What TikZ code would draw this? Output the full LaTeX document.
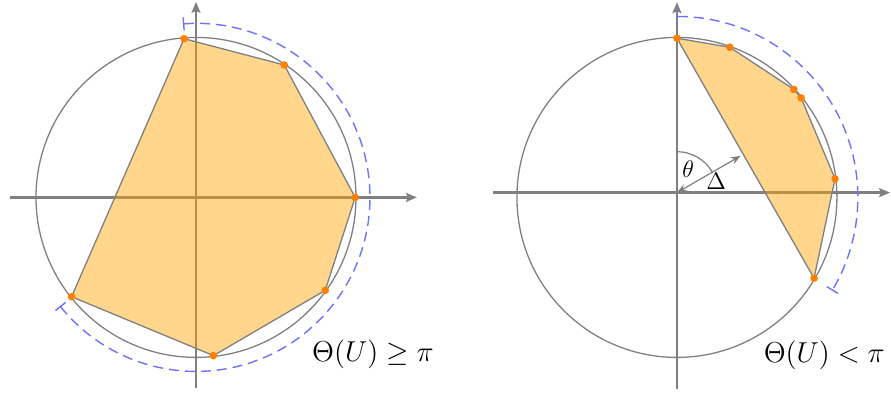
\documentclass[tikz,border=0pt]{standalone}
\usetikzlibrary{arrows.meta}
\definecolor{hullfill}{RGB}{255,165,0}
\definecolor{ptorange}{RGB}{255,128,0}
\definecolor{arcblue}{RGB}{112,112,255}

\begin{document}
\begin{tikzpicture}[x=80pt, y=80pt, >={Stealth[length=5.5pt, width=4.5pt, inset=1pt]},
  axis/.style={->, draw=gray, line width=1.3pt},
  unitcircle/.style={draw=gray, line width=0.65pt},
  hull/.style={fill=hullfill, fill opacity=0.45, draw=gray, line width=0.65pt},
  span/.style={draw=arcblue, line width=0.7pt, dash pattern=on 5pt off 3pt,
    {Bar[width=6.5pt]}-{Bar[width=6.5pt]}},
  vertex/.style={circle, fill=ptorange, inner sep=0pt, minimum size=3.8pt},
  lbl/.style={font=\fontsize{13.4pt}{16pt}\selectfont}]
  \useasboundingbox (-1.225,-1.228) rectangle (4.344,1.234);

  % ---------- Left: Theta(U) >= pi ----------
  \coordinate (O1) at (0,0);
  \draw[axis] (-1.1625,0) -- (1.381,0);
  \draw[axis] (0,-1.19) -- (0,1.222);
  \draw[unitcircle] (O1) circle (1);

  % Points on the circle
  \coordinate (P1) at (94.3:0.995);
  \coordinate (P2) at (56.3:0.995);
  \coordinate (P3) at (0:0.995);
  \coordinate (P4) at (-35.7:0.995);
  \coordinate (P5) at (-83.7:0.995);
  \coordinate (P6) at (218.6:0.995);
  \draw[hull] (P1) -- (P2) -- (P3) -- (P4) -- (P5) -- (P6) -- cycle;

  % Covering arc
  \coordinate (S1) at (94.3:1.0875);
  \draw[span] (S1) arc[start angle=94.3, end angle=-141.4, radius=1.0875];

  \foreach \p in {P1,P2,P3,P4,P5,P6}
    \node[vertex] (dot-\p) at (\p) {};

  \node[lbl] (thetaL) at (1.106,-0.981) {$\Theta(U) \geq \pi$};

  % ---------- Right: Theta(U) < pi ----------
  \coordinate (C2) at (3.006,0);
  \coordinate (O2) at (3.006,0.03);
  \draw[axis] (1.858,0.03) -- (4.338,0.03);
  \draw[axis] (3.006,-1.196) -- (3.006,1.22);
  \draw[unitcircle] (C2) circle (1);

  % Points on the circle
  \coordinate (Q1) at ([shift={(90:0.995)}]C2);
  \coordinate (Q2) at ([shift={(70.6:0.995)}]C2);
  \coordinate (Q3) at ([shift={(42.7:0.995)}]C2);
  \coordinate (Q4) at ([shift={(38.7:0.995)}]C2);
  \coordinate (Q5) at ([shift={(6.7:0.995)}]C2);
  \coordinate (Q6) at ([shift={(-30.5:0.995)}]C2);
  \draw[hull] (Q1) -- (Q2) -- (Q3) -- (Q4) -- (Q5) -- (Q6) -- cycle;

  % Covering arc
  \coordinate (S2) at ([shift={(90:1.131)}]C2);
  \draw[span] (S2) arc[start angle=90, end angle=-31, radius=1.131];

  % Angle and distance to the chord
  \coordinate (A2) at ([shift={(90:0.256)}]O2);
  \coordinate (F2) at ([shift={(30:0.46)}]O2);
  \draw[gray, line width=0.6pt] (A2) arc[start angle=90, end angle=30, radius=0.256];
  \draw[gray, line width=0.6pt, {Stealth[length=5pt, width=3.8pt]}-{Stealth[length=5pt, width=3.8pt]}] (O2) -- (F2);
  \node[font=\fontsize{12pt}{14pt}\selectfont] (theta) at ([shift={(0.07,0.147)}]O2) {$\theta$};
  \node[font=\fontsize{12pt}{14pt}\selectfont] (delta) at ([shift={(0.246,0.072)}]O2) {$\Delta$};

  \foreach \p in {Q1,Q2,Q3,Q4,Q5,Q6}
    \node[vertex] (dot-\p) at (\p) {};

  \node[lbl] (thetaR) at (3.927,-0.987) {$\Theta(U) < \pi$};
\end{tikzpicture}
\end{document}
